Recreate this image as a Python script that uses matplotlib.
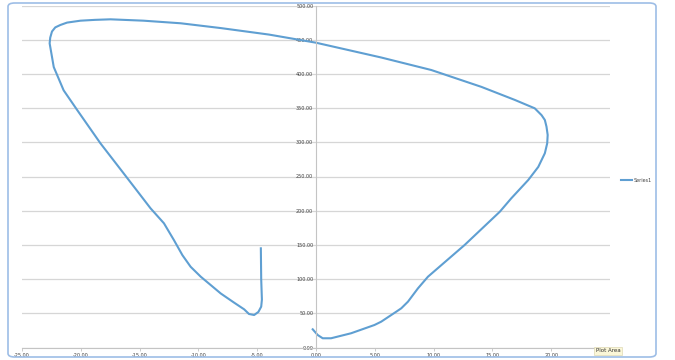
import matplotlib
matplotlib.use('Agg')
import matplotlib.pyplot as plt
from matplotlib.patches import FancyBboxPatch

# curve, in drawing order
xs = [-4.69, -4.66, -4.60, -4.66, -4.90, -5.26, -5.70, -6.11, -7.00, -8.10,
      -9.80, -10.66, -11.36, -12.08, -12.93, -14.07, -15.30, -16.60, -18.33,
      -20.30, -21.46, -22.30, -22.65, -22.60, -22.45, -22.17, -21.74, -21.17,
      -20.60, -20.03, -18.80, -17.48, -14.66, -11.50, -8.10, -4.00, 0.00,
      5.54, 9.80, 14.07, 16.90, 18.60, 19.18, 19.46, 19.60, 19.70, 19.66,
      19.46, 18.90, 18.05, 16.60, 15.63, 12.64, 9.52, 8.67, 7.82, 7.25, 6.82,
      5.54, 4.97, 2.98, 1.28, 0.57, 0.14, -0.28]
ys = [145.0, 100.0, 70.0, 59.7, 52.0, 47.5, 49.0, 55.8, 66.0, 79.0,
      103.5, 118.0, 135.0, 157.0, 181.6, 203.5, 231.0, 260.0, 298.5,
      347.0, 376.0, 410.0, 444.7, 453.0, 462.0, 468.0, 471.5, 475.0,
      476.4, 477.8, 479.0, 479.8, 477.8, 474.0, 467.0, 457.5, 445.6,
      424.0, 405.7, 381.0, 362.0, 349.7, 339.7, 332.6, 322.8, 310.7, 298.5,
      284.0, 264.0, 244.9, 218.0, 198.5, 149.9, 103.5, 86.5, 67.0, 57.3, 52.3,
      37.7, 32.9, 20.8, 13.5, 13.5, 18.3, 26.6]
x_ticks = [-25, -20, -15, -10, -5, 0, 5, 10, 15, 20]
y_ticks = [0, 50, 100, 150, 200, 250, 300, 350, 400, 450, 500]

fig = plt.figure(figsize=(6.75, 3.6), dpi=100)
ax = fig.add_axes([22 / 675, 1 - 347.5 / 360, 588 / 675, 342 / 360])

ax.plot(xs, ys, color='#5f9fd2', lw=1.5, solid_joinstyle='round',
        label='Series1')

ax.set_xlim(-25, 25)
ax.set_ylim(0, 500)
ax.set_xticks(x_ticks)
ax.set_xticklabels([f'{v:.2f}' for v in x_ticks])
ax.set_yticks(y_ticks)
ax.set_yticklabels([f'{v:.2f}' for v in y_ticks])
ax.yaxis.grid(True, color='#d6d6d6', lw=0.9)
ax.set_axisbelow(True)

for s in ('top', 'right'):
    ax.spines[s].set_visible(False)
ax.spines['left'].set_position(('data', 0))
ax.spines['left'].set_color('#c4c4c4')
ax.spines['bottom'].set_color('#c4c4c4')
ax.tick_params(axis='x', length=2, width=0.6, color='#c4c4c4', pad=2,
               labelsize=3.5, labelcolor='#404040')
ax.tick_params(axis='y', length=0, pad=2, labelsize=3.5, labelcolor='#404040')

fig.legend(loc='center left', bbox_to_anchor=(617 / 675, 1 - 180 / 360),
           frameon=False, fontsize=3.5, handlelength=2.2, handletextpad=0.3,
           labelcolor='#404040')

# chart border (rounded, light blue)
fig.patches.append(FancyBboxPatch((8 / 675, 3 / 360), 648 / 675, 354 / 360,
                                  boxstyle='round,pad=0,rounding_size=0.01',
                                  transform=fig.transFigure, fill=False,
                                  ec='#9dbde6', lw=1.2))

fig.text(608 / 675, 1 - 351 / 360, 'Plot Area', fontsize=4, ha='center',
         va='center', color='#333333',
         bbox=dict(boxstyle='square,pad=0.25', fc='#fbf7d8', ec='#d8d2a8', lw=0.4))

fig.savefig('out.png', dpi=100)
